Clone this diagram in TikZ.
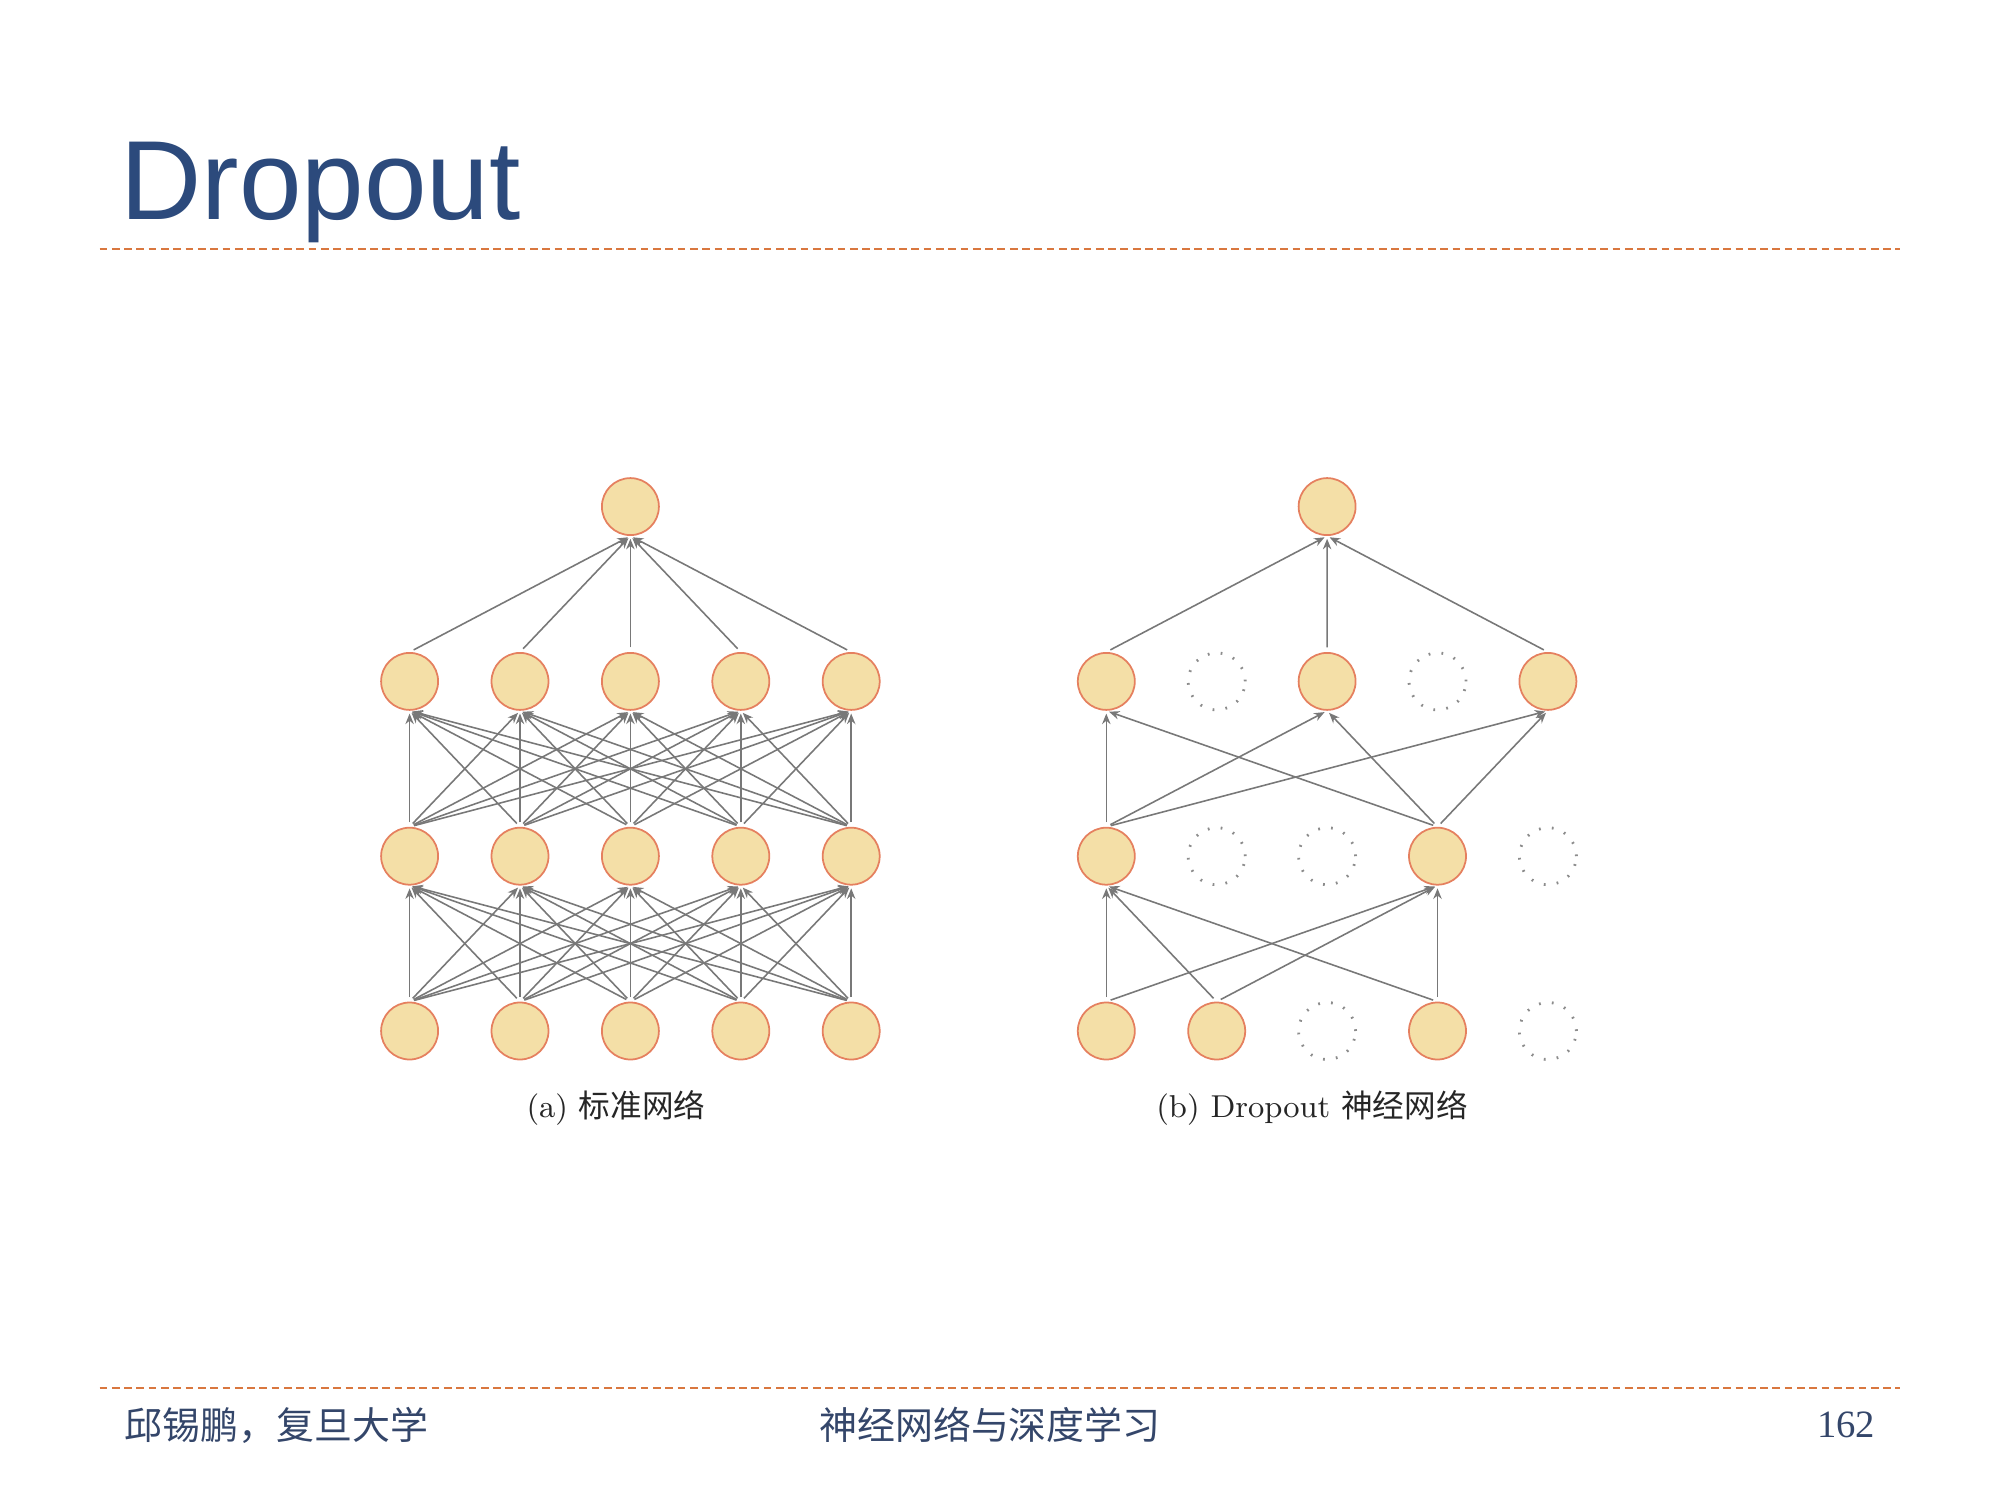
\documentclass[tikz,border=0pt]{standalone}
\usepackage{fontspec}
\newfontfamily\titlefont{Liberation Sans}
\newfontfamily\numfont{Liberation Serif}
\newfontfamily\cjk{Noto Sans CJK SC}
\usetikzlibrary{arrows.meta}
\definecolor{titleblue}{HTML}{2C4A7C}
\definecolor{footblue}{HTML}{34466A}
\definecolor{rulecolor}{HTML}{D9773F}
\definecolor{unitfill}{HTML}{F4DFA7}
\definecolor{unitline}{HTML}{E5805F}
\definecolor{edgegray}{HTML}{787878}
\tikzset{
    unit/.style={circle, draw=unitline, fill=unitfill, line width=0.5pt, minimum size=0.57cm, inner sep=0pt},
    dropped/.style={circle, draw=gray!90, line width=0.8pt, dash pattern=on 0.5pt off 3.2pt, minimum size=0.57cm, inner sep=0pt},
    conn/.style={draw=edgegray, line width=0.45pt, -{Stealth[length=3pt, width=2.4pt]}, shorten <=1.3pt, shorten >=0.8pt},
    rulestyle/.style={draw=rulecolor, line width=0.6pt, dash pattern=on 2.2pt off 1.3pt},
    caption/.style={text=black!85, font=\fontsize{9}{11}\selectfont, inner sep=0pt},
    footer/.style={text=footblue, font=\cjk\fontsize{10.8}{12}\selectfont, inner sep=0pt}
}
\begin{document}
\begin{tikzpicture}
    \useasboundingbox (0, 0) rectangle (20, 15);
        % slide frame
        \node[anchor=base west, inner sep=0pt, text=titleblue, font=\titlefont\fontsize{32}{36}\selectfont] (title) at (1.20, 12.805) {Dropout};
        \coordinate (topl) at (0.995, 12.51);
        \coordinate (topr) at (19.00, 12.51);
        \coordinate (botl) at (0.995, 1.12);
        \coordinate (botr) at (19.00, 1.12);
        \draw[rulestyle] (topl) -- (topr);
        \draw[rulestyle] (botl) -- (botr);
        \node[footer, anchor=west] (author) at (1.24, 0.75) {邱锡鹏，复旦大学};
        \node[footer] (book) at (9.90, 0.75) {神经网络与深度学习};
        \node[footer, anchor=east, font=\numfont\fontsize{11}{12}\selectfont] (page) at (18.76, 0.75) {162};
        % (a) standard network
        \foreach \i in {1,...,5} {
            \node[unit] (ain\i) at ({4.096+1.104*(\i-1)}, 4.690) {};
            \node[unit] (aha\i) at ({4.096+1.104*(\i-1)}, 6.438) {};
            \node[unit] (ahb\i) at ({4.096+1.104*(\i-1)}, 8.186) {};
        }
        \node[unit] (aout) at (6.304, 9.934) {};
        \foreach \i in {1,...,5} {
            \foreach \j in {1,...,5} {
                \draw[conn] (ain\i.north) -- (aha\j.south);
                \draw[conn] (aha\i.north) -- (ahb\j.south);
            }
            \draw[conn] (ahb\i.north) -- (aout.south);
        }
        \node[caption] (acap) at (6.16, 3.924) {(a) {\cjk 标准网络}};
        % (b) dropout network
        \foreach \i/\s in {1/unit, 2/unit, 3/dropped, 4/unit, 5/dropped}
            \node[\s] (bin\i) at ({11.063+1.104*(\i-1)}, 4.690) {};
        \foreach \i/\s in {1/unit, 2/dropped, 3/dropped, 4/unit, 5/dropped}
            \node[\s] (bha\i) at ({11.063+1.104*(\i-1)}, 6.438) {};
        \foreach \i/\s in {1/unit, 2/dropped, 3/unit, 4/dropped, 5/unit}
            \node[\s] (bhb\i) at ({11.063+1.104*(\i-1)}, 8.186) {};
        \node[unit] (bout) at (13.271, 9.934) {};
        \foreach \i in {1,2,4}
            \foreach \j in {1,4}
                \draw[conn] (bin\i.north) -- (bha\j.south);
        \foreach \i in {1,4}
            \foreach \j in {1,3,5}
                \draw[conn] (bha\i.north) -- (bhb\j.south);
        \foreach \i in {1,3,5}
            \draw[conn] (bhb\i.north) -- (bout.south);
        \node[caption] (bcap) at (13.12, 3.924) {(b) Dropout {\cjk 神经网络}};
    \end{tikzpicture}
\end{document}
